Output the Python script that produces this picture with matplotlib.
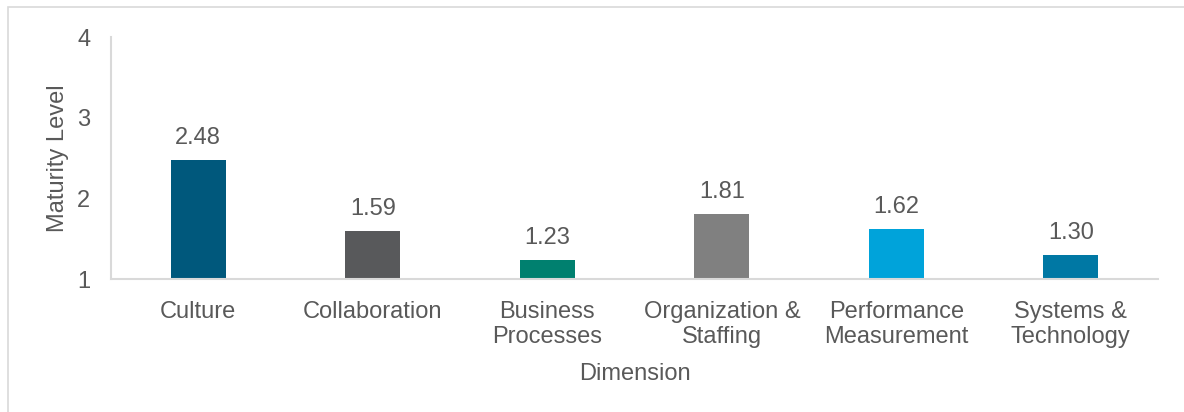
import matplotlib.pyplot as plt
from matplotlib.patches import Rectangle

# maturity scores per dimension
dimensions = ['Culture', 'Collaboration', 'Business\nProcesses',
              'Organization &\nStaffing', 'Performance\nMeasurement',
              'Systems &\nTechnology']
scores = [2.48, 1.59, 1.23, 1.81, 1.62, 1.30]
colors = ['#00587C', '#58595B', '#00806F', '#808080', '#00A3DA', '#0078A4']

txt = '#595959'
fs = 17
plt.rcParams['font.family'] = ['Liberation Sans', 'DejaVu Sans']

fig = plt.figure(figsize=(11.84, 4.12), dpi=100)
ax = fig.add_axes([0.0938, 0.3228, 0.8843, 0.5872])

x = range(len(dimensions))
bars = ax.bar(x, [s - 1 for s in scores], bottom=1, width=0.315, color=colors)
for b, s in zip(bars, scores):
    ax.annotate('%.2f' % s, (b.get_x() + b.get_width() / 2, s),
                xytext=(0, 8), textcoords='offset points',
                ha='center', va='bottom', fontsize=fs, color=txt)

ax.set_xlim(-0.5, len(dimensions) - 0.5)
ax.set_ylim(1, 4)
ax.set_yticks([1, 2, 3, 4])
ax.set_xticks(list(x))
ax.set_xticklabels(dimensions, fontsize=fs, color=txt, linespacing=1.2)
ax.tick_params(axis='y', labelsize=fs, labelcolor=txt, length=0, pad=15)
ax.tick_params(axis='x', length=0, pad=15.5)

for side in ['top', 'right']:
    ax.spines[side].set_visible(False)
for side in ['left', 'bottom']:
    ax.spines[side].set_color('#D9D9D9')
    ax.spines[side].set_linewidth(1.5)

ax.set_ylabel('Maturity Level', fontsize=fs, color=txt, labelpad=6)
ax.set_xlabel('Dimension', fontsize=fs, color=txt, labelpad=11)

# chart area border
fig.patches.append(Rectangle((8 / 1184, -0.1), 1.2, 1 - 7 / 412 + 0.1,
                             transform=fig.transFigure, fill=False,
                             edgecolor='#D9D9D9', linewidth=1.2))

fig.savefig('out.png', dpi=100)
